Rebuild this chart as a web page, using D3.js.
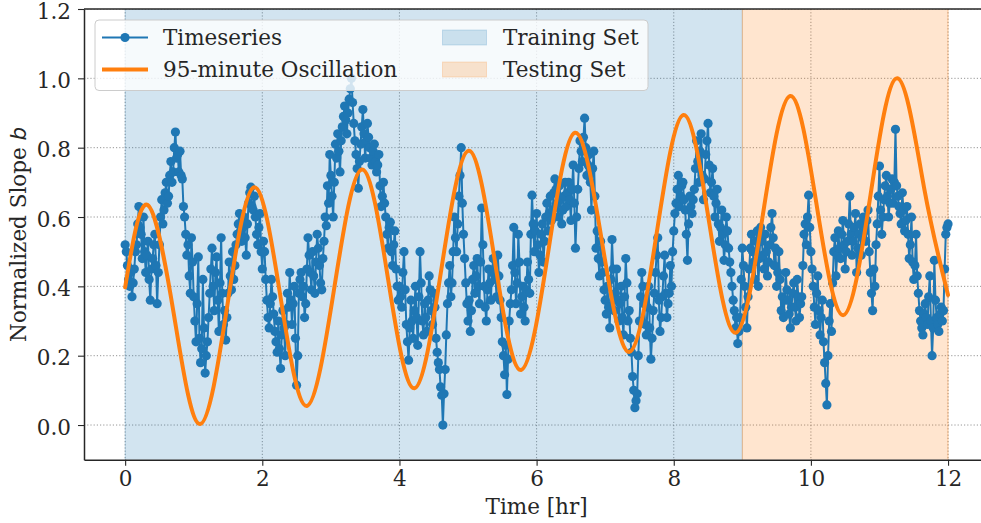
<!DOCTYPE html>
<html>
<head>
<meta charset="utf-8">
<script src="https://cdn.jsdelivr.net/npm/d3@7"></script>
<style>
  html, body { margin: 0; padding: 0; background: #fff; }
  svg { display: block; }
  text { font-family: "DejaVu Serif", serif; fill: #262626; }
</style>
</head>
<body>
<svg id="chart" width="981" height="523"></svg>
<script>
// ---------------- DATA ----------------
const sampleMinutes = 1; // one sample every minute
const seriesHour0  = [0.52,0.50,0.46,0.42,0.40,0.44,0.37,0.41,0.45,0.50,0.52,0.58,0.63,0.57,0.55,0.48,0.60,0.50,0.44,0.49,
  0.53,0.42,0.36,0.45,0.48,0.52,0.55,0.46,0.35,0.44,0.52,0.60,0.65,0.58,0.62,0.67,0.70,0.64,0.66,0.72,
  0.76,0.70,0.73,0.80,0.845,0.77,0.78,0.73,0.79,0.72,0.71,0.63,0.60,0.55,0.49,0.52,0.43,0.38,0.54,0.47];
const seriesHour1  = [0.37,0.30,0.24,0.35,0.485,0.25,0.18,0.22,0.42,0.28,0.15,0.20,0.24,0.31,0.38,0.45,0.51,0.40,0.33,0.44,
  0.485,0.36,0.27,0.41,0.54,0.38,0.29,0.33,0.245,0.31,0.38,0.47,0.43,0.39,0.50,0.42,0.46,0.52,0.55,0.58,
  0.61,0.56,0.53,0.57,0.60,0.54,0.49,0.58,0.64,0.67,0.686,0.63,0.62,0.66,0.60,0.55,0.52,0.57,0.61,0.50];
const seriesHour2  = [0.45,0.53,0.50,0.42,0.36,0.31,0.28,0.35,0.42,0.37,0.32,0.27,0.24,0.21,0.30,0.22,0.163,0.26,0.33,0.28,
  0.20,0.29,0.38,0.34,0.44,0.36,0.29,0.35,0.40,0.25,0.115,0.20,0.38,0.42,0.44,0.37,0.40,0.31,0.35,0.45,
  0.54,0.49,0.44,0.39,0.50,0.43,0.38,0.47,0.55,0.51,0.46,0.41,0.39,0.48,0.53,0.60,0.575,0.69,0.64,0.78];
const seriesHour3  = [0.72,0.66,0.60,0.70,0.81,0.77,0.84,0.79,0.73,0.82,0.86,0.89,0.92,0.88,0.84,0.90,0.94,0.97,1.00,0.93,
  0.87,0.82,0.78,0.74,0.683,0.76,0.81,0.86,0.91,0.84,0.77,0.82,0.87,0.83,0.80,0.77,0.75,0.79,0.81,0.76,
  0.73,0.75,0.78,0.69,0.63,0.66,0.70,0.64,0.60,0.55,0.51,0.57,0.585,0.50,0.46,0.52,0.56,0.45,0.40,0.36];
const seriesHour4  = [0.40,0.37,0.34,0.44,0.50,0.39,0.29,0.24,0.187,0.28,0.36,0.30,0.25,0.33,0.40,0.31,0.23,0.37,0.50,0.41,
  0.30,0.26,0.35,0.31,0.27,0.36,0.43,0.39,0.33,0.29,0.38,0.34,0.25,0.21,0.18,0.16,0.11,0.086,0.00,0.09,
  0.16,0.26,0.35,0.41,0.46,0.37,0.41,0.50,0.60,0.54,0.50,0.58,0.66,0.72,0.80,0.64,0.55,0.48,0.41,0.35];
const seriesHour5  = [0.30,0.36,0.27,0.33,0.42,0.46,0.38,0.43,0.48,0.40,0.35,0.47,0.626,0.52,0.40,0.34,0.30,0.39,0.45,0.41,
  0.36,0.44,0.48,0.45,0.42,0.37,0.49,0.43,0.36,0.31,0.24,0.20,0.145,0.23,0.088,0.19,0.30,0.35,0.39,0.46,
  0.57,0.44,0.35,0.41,0.55,0.47,0.32,0.37,0.40,0.34,0.30,0.39,0.47,0.42,0.38,0.55,0.663,0.58,0.50,0.56];
const seriesHour6  = [0.61,0.52,0.44,0.49,0.55,0.58,0.47,0.53,0.60,0.64,0.56,0.61,0.66,0.59,0.62,0.67,0.71,0.68,0.64,0.60,
  0.69,0.65,0.58,0.62,0.66,0.70,0.63,0.67,0.70,0.65,0.59,0.68,0.75,0.64,0.51,0.60,0.68,0.74,0.82,0.79,
  0.76,0.83,0.885,0.80,0.72,0.75,0.78,0.70,0.62,0.74,0.79,0.66,0.51,0.56,0.48,0.43,0.53,0.47,0.44,0.39];
const seriesHour7  = [0.36,0.32,0.40,0.34,0.28,0.42,0.535,0.45,0.33,0.38,0.45,0.36,0.30,0.35,0.40,0.31,0.26,0.37,0.48,0.41,
  0.30,0.33,0.25,0.21,0.14,0.10,0.05,0.07,0.09,0.20,0.30,0.37,0.44,0.40,0.35,0.29,0.26,0.34,0.40,0.28,
  0.19,0.25,0.33,0.38,0.44,0.49,0.54,0.36,0.27,0.31,0.37,0.43,0.49,0.38,0.31,0.35,0.38,0.46,0.40,0.50];
const seriesHour8  = [0.56,0.61,0.64,0.68,0.72,0.63,0.66,0.69,0.70,0.65,0.62,0.55,0.475,0.58,0.66,0.63,0.61,0.65,0.68,0.74,
  0.82,0.76,0.70,0.79,0.84,0.72,0.65,0.71,0.78,0.82,0.87,0.75,0.67,0.70,0.74,0.66,0.60,0.64,0.68,0.58,
  0.53,0.57,0.62,0.55,0.475,0.52,0.60,0.56,0.51,0.47,0.44,0.40,0.36,0.33,0.28,0.31,0.235,0.27,0.31,0.42];
const seriesHour9  = [0.51,0.46,0.40,0.34,0.28,0.37,0.45,0.51,0.55,0.50,0.47,0.42,0.53,0.56,0.40,0.48,0.57,0.53,0.49,0.45,
  0.55,0.50,0.43,0.47,0.52,0.57,0.61,0.54,0.46,0.51,0.40,0.44,0.50,0.42,0.33,0.37,0.31,0.36,0.44,0.39,
  0.36,0.32,0.28,0.34,0.38,0.41,0.34,0.30,0.42,0.37,0.31,0.35,0.37,0.46,0.55,0.58,0.52,0.60,0.663,0.57];
const seriesHour10 = [0.50,0.45,0.40,0.34,0.29,0.38,0.43,0.33,0.26,0.31,0.36,0.24,0.18,0.12,0.058,0.20,0.30,0.35,0.27,0.41,
  0.50,0.54,0.43,0.49,0.56,0.51,0.48,0.55,0.59,0.52,0.45,0.50,0.53,0.58,0.66,0.55,0.49,0.53,0.57,0.61,
  0.44,0.51,0.55,0.58,0.49,0.54,0.60,0.56,0.53,0.59,0.62,0.50,0.44,0.38,0.33,0.45,0.40,0.52,0.58,0.66];
const seriesHour11 = [0.747,0.62,0.55,0.60,0.65,0.69,0.72,0.66,0.60,0.64,0.68,0.71,0.64,0.70,0.853,0.69,0.66,0.63,0.61,0.58,
  0.67,0.62,0.56,0.59,0.63,0.55,0.48,0.52,0.60,0.47,0.42,0.46,0.55,0.43,0.38,0.33,0.30,0.28,0.26,0.32,
  0.35,0.31,0.29,0.37,0.43,0.30,0.20,0.28,0.475,0.36,0.31,0.29,0.27,0.32,0.34,0.30,0.33,0.45,0.55,0.57];
const seriesHour12 = [0.58];

// 95-minute oscillation: key points (hour, value)
const oscHours  = [0, 0.325, 0.71, 1.094, 1.49, 1.881, 2.265, 2.65, 3.05, 3.45, 3.835, 4.22, 4.61, 5.006, 5.39, 5.774, 6.17, 6.56, 6.955, 7.354, 7.75, 8.14, 8.52, 8.905, 9.30, 9.697, 10.085, 10.474, 10.865, 11.26, 11.65, 12.0];
const oscValues = [0.397, 0.635, 0.32, 0.003, 0.345, 0.686, 0.37, 0.055, 0.396, 0.737, 0.42, 0.106, 0.448, 0.791, 0.475, 0.159, 0.50, 0.843, 0.527, 0.211, 0.552, 0.894, 0.58, 0.266, 0.607, 0.949, 0.633, 0.317, 0.658, 1.0, 0.685, 0.375];

const trainingSpan = [0, 9];
const testingSpan  = [9, 12];
const xTicks = [0, 2, 4, 6, 8, 10, 12];
const yTicks = [0.0, 0.2, 0.4, 0.6, 0.8, 1.0, 1.2];
const legendLabels = ["Timeseries", "95-minute Oscillation", "Training Set", "Testing Set"];

// ---------------- BUILD ----------------
const seriesValues = [].concat(seriesHour0, seriesHour1, seriesHour2, seriesHour3, seriesHour4,
  seriesHour5, seriesHour6, seriesHour7, seriesHour8, seriesHour9, seriesHour10, seriesHour11, seriesHour12);
const series = seriesValues.map((v, i) => ({ t: i * sampleMinutes / 60, v }));
const osc = oscHours.map((t, i) => ({ t, v: oscValues[i] }));

const C0 = "#1f77b4", C1 = "#ff7f0e", ink = "#262626";
const FS = "21.5px";
const svg = d3.select("#chart");
const pL = 84, pT = 9, pB = 459.7, pR = 989.2;

const x = d3.scaleLinear().domain([-0.6, 12.6]).range([pL, pR]);
const y = d3.scaleLinear().domain([-0.1, 1.2]).range([pB, pT]);

svg.append("defs").append("clipPath").attr("id", "clip")
  .append("rect").attr("x", pL).attr("y", pT).attr("width", pR - pL).attr("height", pB - pT);

const plot = svg.append("g").attr("clip-path", "url(#clip)");

// grid
const grid = plot.append("g");
grid.selectAll(".gx").data(xTicks).join("line")
  .attr("x1", d => x(d)).attr("x2", d => x(d)).attr("y1", pT).attr("y2", pB)
  .attr("stroke", "#8a8a8a").attr("stroke-width", 0.9).attr("stroke-dasharray", "1.2,2");
grid.selectAll(".gy").data(yTicks).join("line")
  .attr("x1", pL).attr("x2", pR).attr("y1", d => y(d)).attr("y2", d => y(d))
  .attr("stroke", "#8a8a8a").attr("stroke-width", 0.9).attr("stroke-dasharray", "1.2,2");

// spans
plot.append("rect").attr("x", x(trainingSpan[0])).attr("width", x(trainingSpan[1]) - x(trainingSpan[0]))
  .attr("y", pT - 2).attr("height", pB - pT + 4)
  .attr("fill", C0).attr("fill-opacity", 0.2).attr("stroke", C0).attr("stroke-opacity", 0.2).attr("stroke-width", 1);
plot.append("rect").attr("x", x(testingSpan[0])).attr("width", x(testingSpan[1]) - x(testingSpan[0]))
  .attr("y", pT - 2).attr("height", pB - pT + 4)
  .attr("fill", C1).attr("fill-opacity", 0.2).attr("stroke", C1).attr("stroke-opacity", 0.35).attr("stroke-width", 1);

// timeseries
plot.append("path").datum(series)
  .attr("d", d3.line().x(d => x(d.t)).y(d => y(d.v)))
  .attr("fill", "none").attr("stroke", C0).attr("stroke-width", 2).attr("stroke-linejoin", "round");
plot.append("g").selectAll("circle").data(series).join("circle")
  .attr("cx", d => x(d.t)).attr("cy", d => y(d.v)).attr("r", 4.6).attr("fill", C0);

// oscillation
plot.append("path").datum(osc)
  .attr("d", d3.line().x(d => x(d.t)).y(d => y(d.v)).curve(d3.curveNatural))
  .attr("fill", "none").attr("stroke", C1).attr("stroke-width", 4).attr("stroke-linecap", "round");

// axes
const xAxis = d3.axisBottom(x).tickValues(xTicks).tickFormat(d3.format("d")).tickSize(6).tickSizeOuter(0).tickPadding(5);
const yAxis = d3.axisLeft(y).tickValues(yTicks).tickFormat(d3.format(".1f")).tickSize(6).tickSizeOuter(0).tickPadding(7);

const gx = svg.append("g").attr("transform", `translate(0,${pB})`).call(xAxis);
const gy = svg.append("g").attr("transform", `translate(${pL},0)`).call(yAxis);
[gx, gy].forEach(g => {
  g.select(".domain").attr("stroke", ink).attr("stroke-width", 1.5);
  g.selectAll(".tick line").attr("stroke", ink).attr("stroke-width", 1.1);
  g.selectAll(".tick text").attr("fill", ink).style("font-family", "'DejaVu Serif', serif").style("font-size", FS);
});
gy.selectAll(".tick text").attr("dy", "0.42em");
// top spine
svg.append("line").attr("x1", pL).attr("x2", pR).attr("y1", pT).attr("y2", pT)
  .attr("stroke", ink).attr("stroke-width", 1.5);

// axis labels
svg.append("text").attr("x", x(6)).attr("y", 514)
  .attr("text-anchor", "middle").style("font-size", FS).text("Time [hr]");
const yl = svg.append("text").attr("transform", `translate(26,${(pT + pB) / 2}) rotate(-90)`)
  .attr("text-anchor", "middle").style("font-size", FS);
yl.append("tspan").text("Normalized Slope ");
yl.append("tspan").style("font-style", "italic").style("font-family", "'DejaVu Sans', sans-serif").text("b");

// legend
const lg = svg.append("g");
lg.append("rect").attr("x", 95).attr("y", 20).attr("width", 553).attr("height", 70.5).attr("rx", 4)
  .attr("fill", "#fff").attr("fill-opacity", 0.8).attr("stroke", "#cccccc").attr("stroke-width", 1);
const row1 = 37.5, row2 = 69.5;
lg.append("line").attr("x1", 102).attr("x2", 148).attr("y1", row1).attr("y2", row1).attr("stroke", C0).attr("stroke-width", 2);
lg.append("circle").attr("cx", 125).attr("cy", row1).attr("r", 4.6).attr("fill", C0);
lg.append("line").attr("x1", 102).attr("x2", 148).attr("y1", row2).attr("y2", row2).attr("stroke", C1).attr("stroke-width", 4);
lg.append("rect").attr("x", 442.5).attr("y", row1 - 7.5).attr("width", 44).attr("height", 15)
  .attr("fill", C0).attr("fill-opacity", 0.2).attr("stroke", C0).attr("stroke-opacity", 0.2);
lg.append("rect").attr("x", 442.5).attr("y", row2 - 7.5).attr("width", 44).attr("height", 15)
  .attr("fill", C1).attr("fill-opacity", 0.2).attr("stroke", C1).attr("stroke-opacity", 0.2);
const lt = [[163, row1, legendLabels[0]], [163, row2, legendLabels[1]], [503, row1, legendLabels[2]], [503, row2, legendLabels[3]]];
lg.selectAll("text.lab").data(lt).join("text").attr("class", "lab")
  .attr("x", d => d[0]).attr("y", d => d[1]).attr("dy", "0.35em")
  .style("font-size", FS).text(d => d[2]);
</script>
</body>
</html>
